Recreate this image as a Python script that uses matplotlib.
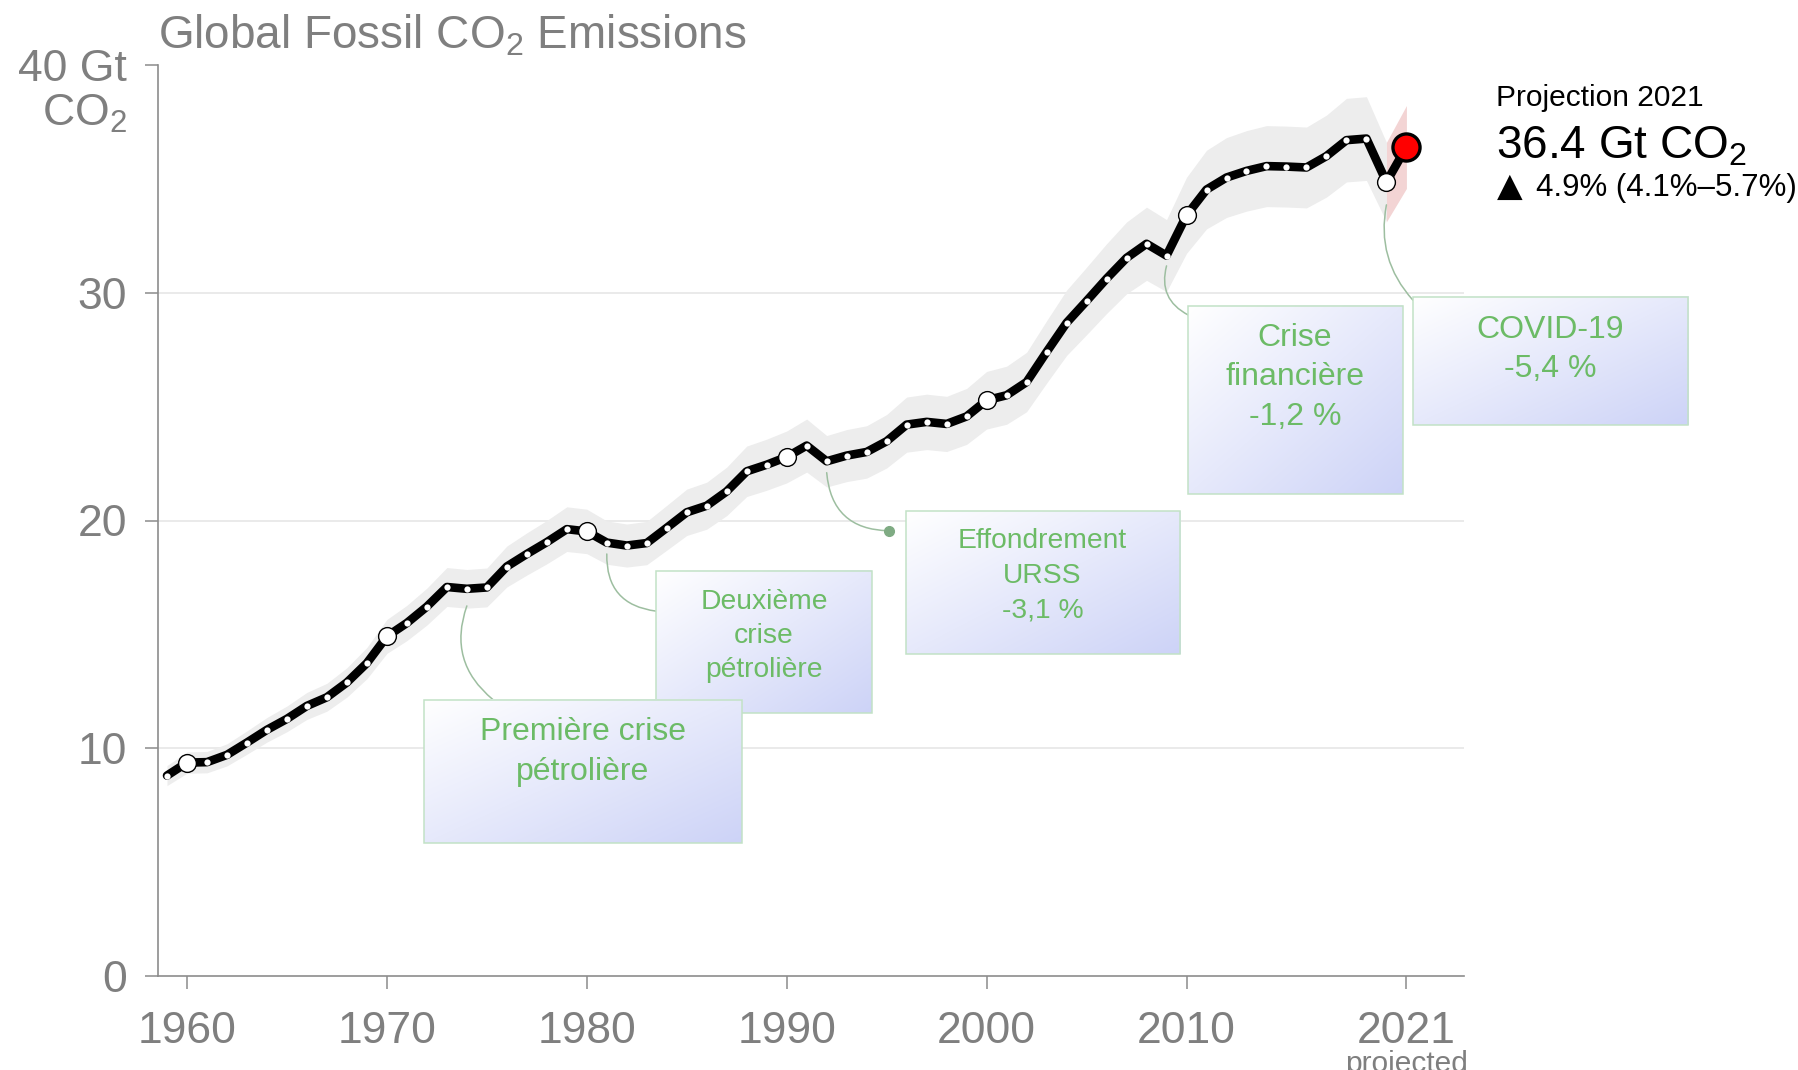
import numpy as np
import matplotlib
matplotlib.use("Agg")
import matplotlib.pyplot as plt
from matplotlib.patches import Rectangle
from matplotlib.colors import to_rgb

# ---------------- data ----------------
years = list(range(1959, 2022))
emissions = [
    8.80,                                                                      # 1959
    9.37, 9.39, 9.71, 10.25, 10.81, 11.29, 11.86, 12.24, 12.89, 13.74,         # 1960s
    14.91, 15.50, 16.22, 17.08, 17.00, 17.06, 17.98, 18.53, 19.05, 19.62,      # 1970s
    19.52, 19.03, 18.90, 19.01, 19.68, 20.36, 20.65, 21.28, 22.16, 22.45,      # 1980s
    22.79, 23.29, 22.60, 22.85, 23.01, 23.48, 24.21, 24.33, 24.24, 24.57,      # 1990s
    25.28, 25.50, 26.08, 27.40, 28.68, 29.64, 30.62, 31.53, 32.15, 31.63,      # 2000s
    33.40, 34.53, 35.06, 35.35, 35.56, 35.54, 35.50, 36.00, 36.70, 36.77,      # 2010s
    34.86, 36.40,                                                              # 2020, 2021 (proj.)
]
uncertainty = 0.05                      # +/- 5 % band
projection_year = 2021
highlight_years = [1960, 1970, 1980, 1990, 2000, 2010, 2020]

x_ticks = [1960, 1970, 1980, 1990, 2000, 2010, 2021]
x_tick_labels = ["1960", "1970", "1980", "1990", "2000", "2010", "2021"]
y_ticks = [0, 10, 20, 30, 40]
y_tick_labels = ["0", "10", "20", "30", "40 Gt"]
grid_levels = [10, 20, 30]

event_labels = [
    "Première crise\npétrolière",
    "Deuxième\ncrise\npétrolière",
    "Effondrement\nURSS\n-3,1 %",
    "Crise\nfinancière\n-1,2 %",
    "COVID-19\n-5,4 %",
]
event_years = [1974, 1981, 1992, 2009, 2020]

proj_title = "Projection 2021"
proj_value = "36.4 Gt CO$_2$"
proj_arrow = "▲"
proj_change = "4.9% (4.1%–5.7%)"

# ---------------- layout / style ----------------
W, H, DPI = 1798, 1070, 100
GRAY = "#7f7f7f"
GREEN = "#6cbb66"
FONT = ["Liberation Sans", "DejaVu Sans"]

plt.rcParams["font.family"] = FONT
plt.rcParams["mathtext.fontset"] = "custom"
plt.rcParams["mathtext.rm"] = "Liberation Sans"
plt.rcParams["mathtext.it"] = "Liberation Sans:italic"
plt.rcParams["mathtext.bf"] = "Liberation Sans:bold"

# annotation boxes: (x0, x1, y0, y1) in data units, text centre, font size, zorder
box_layout = [
    dict(box=(1971.88, 1987.77, 5.84, 12.14), txt=(1979.8, 9.83), fs=23, z=12,
         start_gap=0.75, end=(1975.3, 12.14), rad=0.35, dot=False),
    dict(box=(1983.47, 1994.25, 11.54, 17.78), txt=(1988.86, 14.93), fs=20.3, z=10,
         start_gap=0.5, end=(1983.47, 16.02), rad=0.45, dot=False),
    dict(box=(1995.97, 2009.68, 14.16, 20.40), txt=(2002.8, 17.58), fs=20.3, z=10,
         start_gap=0.5, end=(1995.1, 19.55), rad=0.45, dot=True),
    dict(box=(2010.09, 2020.81, 21.16, 29.42), txt=(2015.42, 26.28), fs=23, z=10,
         start_gap=0.45, end=(2010.09, 29.02), rad=0.4, dot=False),
    dict(box=(2021.33, 2035.10, 24.18, 29.82), txt=(2028.2, 27.51), fs=23, z=10,
         start_gap=1.0, end=(2021.33, 29.67), rad=0.25, dot=False),
]

fig = plt.figure(figsize=(W / DPI, H / DPI), dpi=DPI)
ax_l, ax_r, ax_b, ax_t = 158, 1464, 976, 65
ax = fig.add_axes([ax_l / W, 1 - ax_b / H, (ax_r - ax_l) / W, (ax_b - ax_t) / H])

yrs = np.array(years)
vals = np.array(emissions)

# uncertainty bands
hm = yrs <= projection_year - 1
ax.fill_between(yrs[hm], vals[hm] * (1 - uncertainty), vals[hm] * (1 + uncertainty),
                color="#ededed", lw=0, zorder=2)
pm = yrs >= projection_year - 1
ax.fill_between(yrs[pm], vals[pm] * (1 - uncertainty), vals[pm] * (1 + uncertainty),
                color="#f3d4d4", lw=0, zorder=2.1)

# grid lines
for g in grid_levels:
    ax.axhline(g, color="#e6e6e6", lw=1.2, zorder=1)

# main line
ax.plot(yrs, vals, color="black", lw=6.2, solid_joinstyle="round",
        solid_capstyle="round", zorder=4)
small = np.array([(y not in highlight_years) and (y != projection_year) for y in years])
ax.plot(yrs[small], vals[small], "o", ms=4.5, mfc="white", mec="white", mew=0, zorder=5)
big = np.array([y in highlight_years for y in years])
ax.plot(yrs[big], vals[big], "o", ms=12.8, mfc="white", mec="black", mew=1.0, zorder=6)
ax.plot([projection_year], [vals[yrs == projection_year][0]], "o", ms=19.5,
        mfc="#ff0000", mec="black", mew=2.4, zorder=7)

# annotation boxes
c_lav = np.array(to_rgb("#cdd3f7"))
c_wht = np.array([1.0, 1.0, 1.0])
n = 80
U, V = np.meshgrid(np.linspace(0, 1, n), np.linspace(0, 1, n))
T = ((U + V) / 2)[..., None]
grad = c_wht * (1 - T) + c_lav * T

for lab, ey, lay in zip(event_labels, event_years, box_layout):
    x0, x1, y0, y1 = lay["box"]
    ax.imshow(grad, extent=(x0, x1, y0, y1), origin="upper", aspect="auto",
              interpolation="bilinear", zorder=lay["z"], clip_on=False)
    ax.add_patch(Rectangle((x0, y0), x1 - x0, y1 - y0, fill=False, ec="#c2e2c6",
                           lw=1.1, zorder=lay["z"] + 0.1, clip_on=False))
    ax.text(lay["txt"][0], lay["txt"][1], lab, ha="center", va="center",
            multialignment="center", color=GREEN, fontsize=lay["fs"],
            linespacing=1.42, zorder=lay["z"] + 0.2, clip_on=False)
    sy = vals[yrs == ey][0] - lay["start_gap"]
    ax.annotate("", xy=lay["end"], xytext=(ey, sy),
                arrowprops=dict(arrowstyle="-", color="#9dbea0", lw=1.1,
                                connectionstyle=f"arc3,rad={lay['rad']}",
                                shrinkA=0, shrinkB=0),
                zorder=3, annotation_clip=False)
    if lay["dot"]:
        ax.plot([lay["end"][0]], [lay["end"][1]], "o", ms=7, color="#7fab83",
                zorder=3, clip_on=False)

# axes styling
ax.set_xlim(1958.55, 2023.88)
ax.set_ylim(0, 40)
for s in ["top", "right"]:
    ax.spines[s].set_visible(False)
for s in ["left", "bottom"]:
    ax.spines[s].set_color("#8c8c8c")
    ax.spines[s].set_linewidth(1.2)
ax.set_xticks(x_ticks)
ax.set_xticklabels(x_tick_labels)
ax.set_yticks(y_ticks)
ax.set_yticklabels(y_tick_labels)
ax.tick_params(axis="x", length=9.5, width=1.1, color="#8c8c8c", pad=16,
               labelsize=32, labelcolor=GRAY)
ax.tick_params(axis="y", length=9.5, width=1.1, color="#8c8c8c", pad=13,
               labelsize=32, labelcolor=GRAY)
ax.set_facecolor("none")

ax.annotate("CO$_2$", xy=(0, 40), xycoords=("axes fraction", "data"),
            xytext=(-22.5, -44), textcoords="offset points", ha="right",
            va="baseline", fontsize=32, color=GRAY, annotation_clip=False)
ax.annotate("projected", xy=(projection_year, 0), xycoords=("data", "axes fraction"),
            xytext=(0, -69), textcoords="offset points", ha="center",
            va="baseline", fontsize=21.5, color=GRAY, annotation_clip=False)

fig.text(ax_l / W, 1 - 48.5 / H, "Global Fossil CO$_2$ Emissions", fontsize=33,
         color=GRAY, ha="left", va="baseline")

fig.text(1496.5 / W, 1 - 106.5 / H, proj_title, fontsize=21.5, color="black",
         ha="left", va="baseline")
fig.text(1496.5 / W, 1 - 159 / H, proj_value, fontsize=33, color="black",
         ha="left", va="baseline")
fig.text(1496.5 / W, 1 - 196 / H, proj_arrow, fontsize=24, color="black",
         ha="left", va="baseline", family=["DejaVu Sans"])
fig.text(1536 / W, 1 - 196 / H, proj_change, fontsize=22.5, color="black",
         ha="left", va="baseline")

fig.savefig("out.png", dpi=DPI, facecolor="white")
